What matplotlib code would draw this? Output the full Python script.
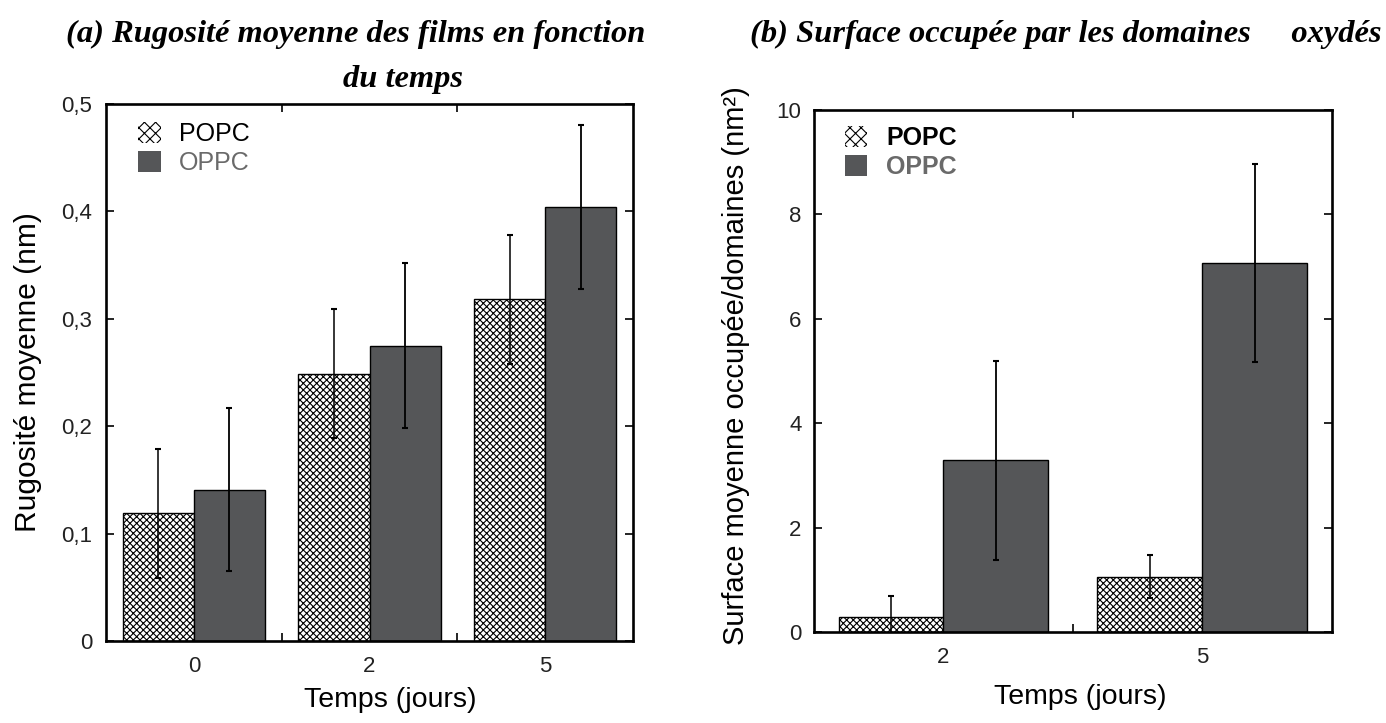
import numpy as np
import matplotlib
matplotlib.use("Agg")
import matplotlib.pyplot as plt
from matplotlib.patches import Patch

# (a) rugosite moyenne
days_a = ['0', '2', '5']
popc_a = [0.119, 0.249, 0.318]
popc_a_err = [0.060, 0.060, 0.060]
oppc_a = [0.141, 0.275, 0.404]
oppc_a_err = [0.076, 0.077, 0.076]
yticks_a = [0, 0.1, 0.2, 0.3, 0.4, 0.5]
ylabels_a = ['0', '0,1', '0,2', '0,3', '0,4', '0,5']

# (b) surface occupee par les domaines oxydes
days_b = ['2', '5']
popc_b = [0.28, 1.06]
popc_b_err = [0.41, 0.41]
oppc_b = [3.29, 7.07]
oppc_b_err = [1.91, 1.90]
yticks_b = [0, 2, 4, 6, 8, 10]
ylabels_b = ['0', '2', '4', '6', '8', '10']

dark = '#555658'
plt.rcParams['font.family'] = ['Liberation Sans', 'DejaVu Sans']
plt.rcParams['hatch.linewidth'] = 0.8

fig = plt.figure(figsize=(13.86, 7.23), dpi=100)
ax1 = fig.add_axes([0.0765, 0.1134, 0.3802, 0.7428])
ax2 = fig.add_axes([0.5873, 0.1259, 0.3735, 0.7220])


def draw(ax, days, popc, popc_err, oppc, oppc_err, yticks, ylabels, ylim, bold, ypad, leg_at):
    x = np.arange(len(days))
    w = 0.405
    ax.bar(x - w / 2, popc, w, color='white', edgecolor='black', hatch='xxxxx', lw=1.0, zorder=2)
    ax.bar(x + w / 2, oppc, w, color=dark, edgecolor='black', lw=1.0, zorder=2)
    ax.errorbar(x - w / 2, popc, yerr=popc_err, fmt='none', ecolor='black',
                elinewidth=1.1, capsize=2.5, capthick=1.5, zorder=3)
    ax.errorbar(x + w / 2, oppc, yerr=oppc_err, fmt='none', ecolor='black',
                elinewidth=1.3, capsize=2.5, capthick=1.5, zorder=3)
    ax.set_xlim(-0.5, len(days) - 0.5)
    ax.set_ylim(*ylim)
    ax.set_xticks(x)
    ax.set_xticklabels(days)
    ax.set_xticks(np.arange(len(days) - 1) + 0.5, minor=True)
    ax.set_yticks(yticks)
    ax.set_yticklabels(ylabels)
    ax.tick_params(axis='x', which='major', length=0, pad=11, labelsize=16, labelcolor='#222222')
    ax.tick_params(axis='x', which='minor', direction='in', length=6, width=1.2, top=True, bottom=True)
    ax.tick_params(axis='y', direction='in', length=6, width=1.2, left=True, right=True,
                   pad=ypad, labelsize=16, labelcolor='#222222')
    for s in ax.spines.values():
        s.set_linewidth(1.9)
    weight = 'bold' if bold else 'normal'
    handles = [Patch(facecolor='white', edgecolor='black', hatch='xxx', lw=0),
               Patch(facecolor=dark, edgecolor=dark, lw=0)]
    leg = ax.legend(handles, ['POPC', 'OPPC'], loc='upper left', bbox_to_anchor=leg_at,
                    frameon=False, prop={'size': 18, 'weight': weight},
                    handlelength=0.9, handleheight=0.9, handletextpad=0.75, labelspacing=0.2)
    leg.get_texts()[0].set_color('black')
    leg.get_texts()[1].set_color('#6a6a6a')


draw(ax1, days_a, popc_a, popc_a_err, oppc_a, oppc_a_err, yticks_a, ylabels_a, (0, 0.5),
     False, 10, (0.018, 1.008))
draw(ax2, days_b, popc_b, popc_b_err, oppc_b, oppc_b_err, yticks_b, ylabels_b, (0, 10),
     True, 9, (0.016, 1.012))

ax1.set_ylabel('Rugosité moyenne (nm)', fontsize=21.5)
ax1.yaxis.set_label_coords(-0.121, 0.5)
ax1.set_xlabel('Temps (jours)', fontsize=20.5)
ax1.xaxis.label.set_va('center')
ax1.xaxis.set_label_coords(0.54, -0.11)

ax2.set_ylabel('Surface moyenne occupée/domaines (nm²)', fontsize=21)
ax2.yaxis.set_label_coords(-0.124, 0.511)
ax2.set_xlabel('Temps (jours)', fontsize=20.5)
ax2.xaxis.label.set_va('center')
ax2.xaxis.set_label_coords(0.514, -0.125)

tfont = {'family': 'Liberation Serif', 'weight': 'bold', 'style': 'italic', 'size': 23.4}
fig.text(356 / 1386, 1 - 42 / 723, '(a) Rugosité moyenne des films en fonction',
         ha='center', va='baseline', **tfont)
fig.text(403 / 1386, 1 - 87 / 723, 'du temps', ha='center', va='baseline', **tfont)
fig.text(1066 / 1386, 1 - 42 / 723, '(b) Surface occupée par les domaines     oxydés',
         ha='center', va='baseline', **tfont)

fig.savefig('out.png', dpi=100)
